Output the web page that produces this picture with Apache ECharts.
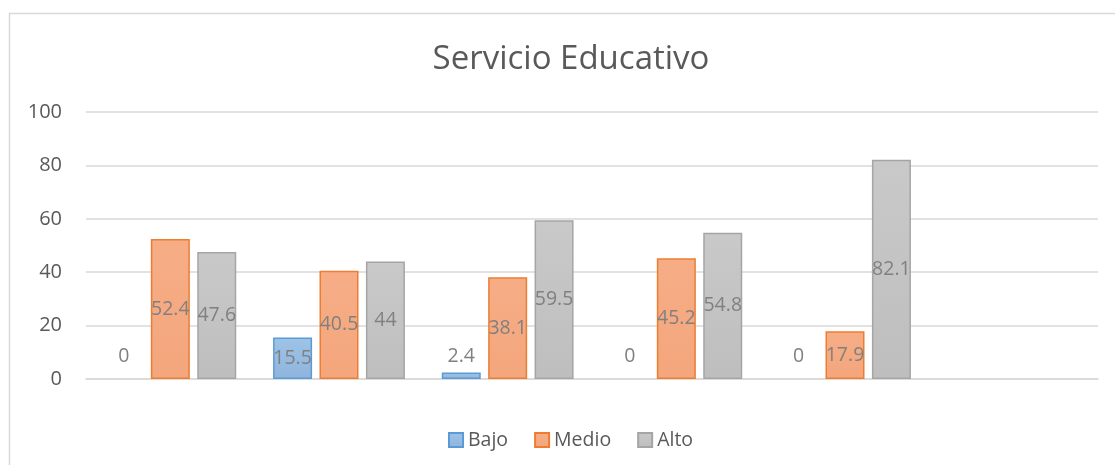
<!DOCTYPE html>
<html><head><meta charset="utf-8">
<script src="https://cdn.jsdelivr.net/npm/echarts@6/dist/echarts.min.js"></script>
<style>html,body{margin:0;padding:0;background:#fff}#c{width:1115px;height:465px}</style>
</head><body><div id="c"></div>
<script>
var categories = ['1', '2', '3', '4', '5', '6'];
var bajo = [0, 15.5, 2.4, 0, 0, null];
var medio = [52.4, 40.5, 38.1, 45.2, 17.9, null];
var alto = [47.6, 44, 59.5, 54.8, 82.1, null];
var yTicks = [0, 20, 40, 60, 80, 100];

var FONT = '"Open Sans", "Noto Sans", sans-serif';
function grad(top, bottom) {
  return new echarts.graphic.LinearGradient(0, 0, 0, 1, [{offset: 0, color: top}, {offset: 1, color: bottom}]);
}
function lbl(pos, dist) {
  return {show: true, position: pos, distance: dist || 5, color: '#808080', fontSize: 19.5, fontFamily: FONT,
    formatter: function (p) { return p.value == null ? '' : String(p.value); }};
}
function mk(values, smallPos) {
  return values.map(function (v) {
    if (v == null) return null;
    var item = {value: v};
    if (v === 0) item.itemStyle = {borderWidth: 0, borderColor: 'rgba(0,0,0,0)', color: 'rgba(0,0,0,0)'};
    if (smallPos && v < 5) item.label = lbl('top', v === 0 ? 13 : 6);
    return item;
  });
}
var chart = echarts.init(document.getElementById('c'));
chart.setOption({
  animation: false,
  title: {text: 'Servicio Educativo', left: 566, textAlign: 'center', top: 38,
    textStyle: {color: '#595959', fontSize: 33, fontWeight: 'normal', fontFamily: FONT}},
  graphic: [{type: 'rect', shape: {x: 9.5, y: 13.5, width: 1300, height: 700}, style: {fill: 'none', stroke: '#d9d9d9', lineWidth: 1.5}, silent: true}],
  legend: {data: ['Bajo', 'Medio', 'Alto'], left: 443, top: 425, itemWidth: 14, itemHeight: 14, itemGap: 26,
    icon: 'rect', textStyle: {color: '#595959', fontSize: 19.5, fontFamily: FONT}},
  grid: {left: 86, right: 17, top: 112, bottom: 86, containLabel: false},
  xAxis: {type: 'category', data: categories, axisLabel: {show: false}, axisTick: {show: false},
    axisLine: {show: true, lineStyle: {color: '#d9d9d9', width: 1.5}}},
  yAxis: {type: 'value', min: 0, max: 100, interval: 20,
    axisLabel: {color: '#595959', fontSize: 20, fontFamily: FONT, margin: 24,
      formatter: function (v) { return yTicks.indexOf(v) >= 0 ? String(v) : ''; }},
    axisLine: {show: false}, axisTick: {show: false},
    splitLine: {lineStyle: {color: '#d9d9d9', width: 1.5}}},
  series: [
    {name: 'Bajo', type: 'bar', data: mk(bajo, true), barWidth: 39, barGap: '19%',
      itemStyle: {color: grad('#9dc3e6', '#8fb5df'), borderColor: '#5b9bd5', borderWidth: 1.5},
      label: lbl('inside')},
    {name: 'Medio', type: 'bar', data: mk(medio), barWidth: 39,
      itemStyle: {color: grad('#f6ad86', '#f4a67c'), borderColor: '#ed7d31', borderWidth: 1.5},
      label: lbl('inside')},
    {name: 'Alto', type: 'bar', data: mk(alto), barWidth: 39,
      itemStyle: {color: grad('#c9c9c9', '#bebebe'), borderColor: '#a5a5a5', borderWidth: 1.5},
      label: lbl('inside')}
  ]
});
</script></body></html>
